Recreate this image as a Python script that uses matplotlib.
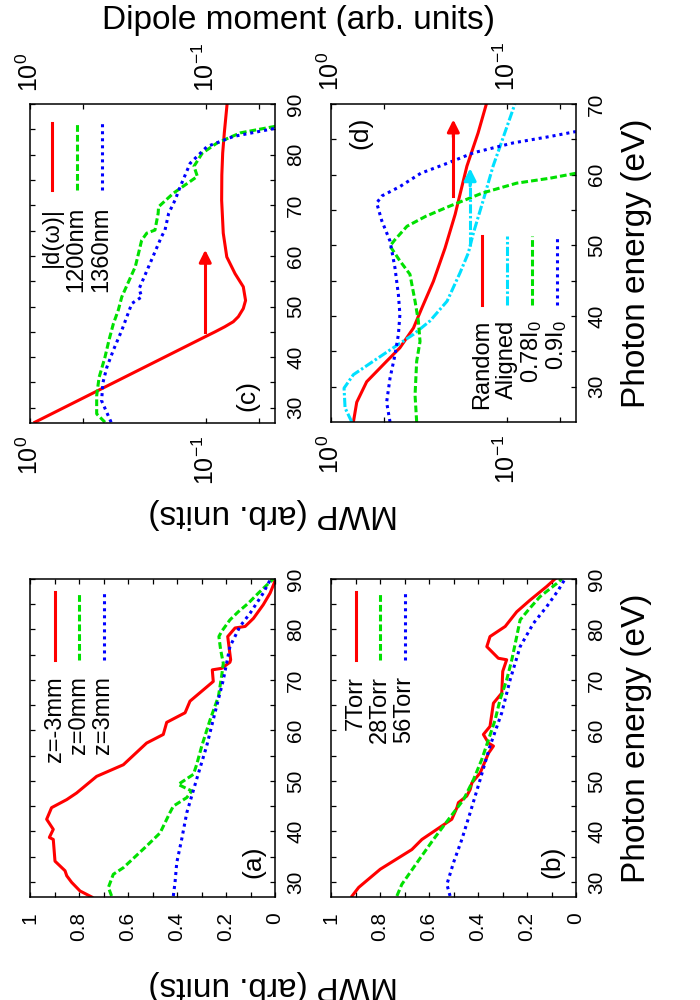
import matplotlib
matplotlib.use("Agg")
import matplotlib.pyplot as plt
from matplotlib.ticker import NullFormatter

plt.rcParams['font.family'] = ['Liberation Sans', 'DejaVu Sans']
plt.rcParams['mathtext.fontset'] = 'custom'
plt.rcParams['mathtext.rm'] = 'Liberation Sans'
plt.rcParams['mathtext.it'] = 'Liberation Sans:italic'
plt.rcParams['mathtext.default'] = 'regular'

# ---- panel (a): MWP vs photon energy, three z positions
e_a_m3 = [27, 28.2, 29.9, 31.2, 32.2, 34.1, 38.4, 38.8, 40.4, 42.4, 44.7, 46.3, 47.6, 50.9,
          53.2, 57.5, 59.2, 61.6, 63.5, 65.8, 69.7, 72.0, 72.3, 73.5, 74.0, 78.6, 80.3, 80.6,
          82.2, 84.9, 87.2, 89.1, 90]
mwp_a_m3 = [0.748, 0.796, 0.83, 0.85, 0.857, 0.898, 0.905, 0.921, 0.905, 0.932, 0.912, 0.85,
            0.81, 0.728, 0.619, 0.524, 0.456, 0.442, 0.367, 0.347, 0.252, 0.256, 0.218, 0.184,
            0.181, 0.193, 0.163, 0.122, 0.088, 0.048, 0.02, 0.004, 0.0]
e_a_0 = [27.2, 28.9, 31.5, 32.8, 37.1, 39.7, 43.7, 45.0, 46.7, 48.0, 49.3, 51.3, 53.2, 56.9,
         62.1, 66.7, 70.7, 73.3, 76.0, 78.6, 79.6, 81.9, 83.5, 85.2, 87.2, 89.1, 90]
mwp_a_0 = [0.667, 0.68, 0.66, 0.619, 0.524, 0.469, 0.429, 0.415, 0.36, 0.34, 0.395, 0.333,
           0.32, 0.299, 0.265, 0.231, 0.218, 0.211, 0.222, 0.229, 0.218, 0.184, 0.15, 0.109,
           0.068, 0.027, 0.007]
e_a_p3 = [27.2, 29.9, 33.8, 38.4, 43.7, 50.3, 56.9, 63.5, 70.0, 76.6, 80.6, 83.2, 87.2, 90]
mwp_a_p3 = [0.415, 0.408, 0.401, 0.381, 0.36, 0.32, 0.279, 0.245, 0.211, 0.184, 0.143, 0.102,
            0.048, 0.018]

# ---- panel (b): three gas pressures
e_b_7 = [27.2, 28.9, 32.5, 36.4, 38.4, 40.4, 42.4, 44.7, 45.7, 47.0, 48.3, 49.6, 51.6, 53.9,
         55.5, 56.9, 57.5, 59.2, 60.8, 65.4, 67.4, 71.7, 74.0, 74.3, 76.6, 78.6, 80.6, 83.5,
         85.8, 88.5, 90]
mwp_b_7 = [0.914, 0.887, 0.799, 0.67, 0.629, 0.568, 0.507, 0.486, 0.48, 0.446, 0.432, 0.425,
           0.391, 0.371, 0.357, 0.337, 0.357, 0.378, 0.351, 0.337, 0.303, 0.299, 0.283, 0.317,
           0.364, 0.351, 0.289, 0.242, 0.188, 0.12, 0.086]
e_b_28 = [27.2, 29.5, 33.8, 38.4, 42.4, 46.3, 50.3, 54.2, 58.2, 62.1, 66.1, 70.0, 74.0, 78.6,
          81.9, 83.9, 86.5, 89.1, 90]
mwp_b_28 = [0.731, 0.711, 0.649, 0.582, 0.52, 0.459, 0.418, 0.385, 0.357, 0.33, 0.31, 0.283,
            0.262, 0.242, 0.228, 0.194, 0.147, 0.079, 0.058]
e_b_56 = [27.2, 29.5, 33.8, 38.4, 43.7, 50.3, 56.9, 63.5, 70.0, 76.6, 81.2, 84.5, 87.8, 90]
mwp_b_56 = [0.514, 0.527, 0.5, 0.466, 0.432, 0.391, 0.351, 0.303, 0.269, 0.228, 0.174, 0.12,
            0.072, 0.045]

# ---- panel (c): dipole moment and MWP (log scale)
e_c_d = [27.15, 44.0, 45.0, 46.0, 47.0, 48.0, 49.6, 51.2, 53.9, 56.5, 59.8, 64.5, 71.0, 76.0,
         80.3, 84.3, 90]
val_c_d = [0.938, 0.1016, 0.0889, 0.0783, 0.0700, 0.0655, 0.0614, 0.0596, 0.0614, 0.0684,
           0.0762, 0.0798, 0.0815, 0.0813, 0.0804, 0.0787, 0.0759]
e_c_1200 = [27.15, 28.8, 32.4, 36.0, 40.0, 43.5, 46.6, 49.3, 51.9, 57.9, 63.1, 64.5, 65.1, 68.4,
            69.7, 72.4, 75.7, 77.7, 80.3, 82.3, 84.3, 85.6]
val_c_1200 = [0.375, 0.418, 0.418, 0.405, 0.375, 0.355, 0.336, 0.315, 0.301, 0.252, 0.232,
              0.217, 0.195, 0.187, 0.186, 0.153, 0.112, 0.117, 0.105, 0.0865, 0.0638, 0.0403]
e_c_1360 = [27.15, 31.4, 35.0, 38.0, 41.5, 45.3, 50.6, 51.9, 53.5, 59.2, 63.8, 65.1, 68.4, 71.0,
            73.7, 78.3, 81.6, 83.6, 85.2]
val_c_1360 = [0.346, 0.392, 0.385, 0.366, 0.335, 0.301, 0.264, 0.232, 0.240, 0.204, 0.179,
              0.171, 0.163, 0.150, 0.140, 0.123, 0.0986, 0.0697, 0.0403]

# ---- panel (d): random / aligned / two intensities (log scale)
e_d_rand = [25, 27.8, 30.7, 33.6, 35.5, 38.3, 41.1, 44.9, 49.6, 54.4, 57.2, 61.2, 65.9, 70]
val_d_rand = [0.746, 0.714, 0.627, 0.483, 0.406, 0.340, 0.305, 0.262, 0.225, 0.197, 0.185,
              0.169, 0.146, 0.131]
e_d_align = [25, 27.0, 29.8, 31.7, 33.6, 35.5, 37.4, 39.3, 42.1, 46.1, 48.9, 51.8, 56.5, 61.2,
             65.9, 70]
val_d_align = [0.762, 0.832, 0.843, 0.746, 0.575, 0.443, 0.340, 0.274, 0.219, 0.185, 0.166,
               0.155, 0.136, 0.120, 0.103, 0.0902]
e_d_078 = [25, 28.8, 33.6, 36.4, 39.3, 42.1, 45.9, 47.8, 49.9, 50.8, 52.7, 54.1, 55.5, 57.4,
           58.8, 59.5, 60.2]
val_d_078 = [0.326, 0.333, 0.326, 0.312, 0.319, 0.333, 0.356, 0.406, 0.462, 0.433, 0.370,
             0.290, 0.214, 0.138, 0.0881, 0.0570, 0.0406]
e_d_09 = [25, 27.8, 31.2, 34.5, 37.4, 40.2, 43.0, 46.8, 50.6, 53.5, 56.0, 57.0, 58.3, 60.2,
          61.6, 63.1, 64.5, 65.4, 66.1]
val_d_09 = [0.462, 0.483, 0.462, 0.433, 0.414, 0.406, 0.414, 0.433, 0.462, 0.515, 0.550, 0.513,
            0.407, 0.309, 0.219, 0.155, 0.092, 0.057, 0.0406]

mwp_ticks = [1, 0.8, 0.6, 0.4, 0.2, 0]
mwp_labels = ['1', '0.8', '0.6', '0.4', '0.2', '0']
log_ticks = [1, 0.1]
log_labels = [r'$10^{0}$', r'$10^{-1}$']

RED = '#ff0000'
GREEN = '#00e000'
BLUE = '#0000ff'
CYAN = '#00e0ff'
LW = 2.2
styles = {
    'red': dict(color=RED, lw=LW, ls='-'),
    'green': dict(color=GREEN, lw=LW, ls=(0, (2.2, 1.0))),
    'blue': dict(color=BLUE, lw=LW, ls=(0, (1.0, 1.3))),
    'cyan': dict(color=CYAN, lw=LW, ls=(0, (3.0, 0.8, 0.8, 0.8))),
}

TICK_FS = 15
LOG_FS = 18
LEG_FS = 17
LAB_FS = 24

fig = plt.figure(figsize=(7, 10), dpi=100)


def box(x0, y0, x1, y1):
    return [x0 / 700, 1 - y1 / 1000, (x1 - x0) / 700, (y1 - y0) / 1000]


ax_a = fig.add_axes(box(30, 579, 275, 897))
ax_b = fig.add_axes(box(331, 579, 576, 897))
ax_c = fig.add_axes(box(30, 104, 275, 423))
ax_d = fig.add_axes(box(331, 104, 576, 422))


def setup(ax, e_lo, e_hi, log):
    ax.set_ylim(e_lo, e_hi)
    ax.yaxis.tick_right()
    major = list(range(30, e_hi + 1, 10))
    ax.set_yticks(major, [str(v) for v in major], rotation=90, va='center')
    ax.set_yticks(list(range(35, e_hi, 10)), minor=True)
    if log:
        ax.set_xscale('log')
        ax.set_xlim(1, 10 ** -1.392)
        ax.set_xticks(log_ticks, log_labels, rotation=90)
        ax.set_xticks([0.5, 0.05], minor=True)
        ax.xaxis.set_minor_formatter(NullFormatter())
    else:
        ax.set_xlim(1, 0)
        ax.set_xticks(mwp_ticks, mwp_labels, rotation=90)
        ax.set_xticks([0.9, 0.7, 0.5, 0.3, 0.1], minor=True)
    ax.tick_params(which='both', direction='in', length=3.8, width=0.9,
                   top=True, bottom=True, left=True, right=True,
                   labelleft=False, labelright=True)
    ax.tick_params(axis='y', pad=8, labelsize=TICK_FS)
    if log:
        ax.tick_params(axis='x', pad=9, labeltop=True, labelsize=LOG_FS)
    else:
        ax.tick_params(axis='x', pad=11, labelsize=TICK_FS)
    for s in ax.spines.values():
        s.set_linewidth(1.1)


def legend(ax, xs, e_line, e_text, names, keys):
    for x, name, key in zip(xs, names, keys):
        ax.plot([x, x], e_line, **styles[key])
        ax.text(x, e_text, name, rotation=90, ha='center', va='top', fontsize=LEG_FS)


def arrow(ax, x, e0, e1, key):
    st = styles[key]
    ax.plot([x, x], [e0, e1 - 1.5], **st)
    ax.annotate('', xy=(x, e1), xytext=(x, e1 - 2.5),
                arrowprops=dict(arrowstyle='-|>', color=st['color'], lw=LW,
                                mutation_scale=18, shrinkA=0, shrinkB=0))


# (a)
setup(ax_a, 27, 90, False)
ax_a.plot(mwp_a_m3, e_a_m3, **styles['red'])
ax_a.plot(mwp_a_0, e_a_0, **styles['green'])
ax_a.plot(mwp_a_p3, e_a_p3, **styles['blue'])
legend(ax_a, [0.9, 0.8, 0.7], [74.0, 87.5], 70.7, ['z=-3mm', 'z=0mm', 'z=3mm'],
       ['red', 'green', 'blue'])
ax_a.text(0.09, 34, '(a)', rotation=90, ha='center', va='center', fontsize=19)

# (b)
setup(ax_b, 27, 90, False)
ax_b.plot(mwp_b_7, e_b_7, **styles['red'])
ax_b.plot(mwp_b_28, e_b_28, **styles['green'])
ax_b.plot(mwp_b_56, e_b_56, **styles['blue'])
legend(ax_b, [0.9, 0.8, 0.7], [74.0, 87.5], 70.7, ['7Torr', '28Torr', '56Torr'],
       ['red', 'green', 'blue'])
ax_b.text(0.098, 34, '(b)', rotation=90, ha='center', va='center', fontsize=19)

# (c)
setup(ax_c, 27, 90, True)
ax_c.plot(val_c_d, e_c_d, **styles['red'])
ax_c.plot(val_c_1200, e_c_1200, **styles['green'])
ax_c.plot(val_c_1360, e_c_1360, **styles['blue'])
legend(ax_c, [0.753, 0.543, 0.392], [73.0, 86.2], 69.7, ['|d(ω)|', '1200nm', '1360nm'],
       ['red', 'green', 'blue'])
arrow(ax_c, 0.101, 45.0, 61.2, 'red')
ax_c.text(0.0585, 32.4, '(c)', rotation=90, ha='center', va='center', fontsize=19)

# (d)
setup(ax_d, 25, 70, True)
ax_d.plot(val_d_rand, e_d_rand, **styles['red'])
ax_d.plot(val_d_align, e_d_align, **styles['cyan'])
ax_d.plot(val_d_078, e_d_078, **styles['green'])
ax_d.plot(val_d_09, e_d_09, **styles['blue'])
legend(ax_d, [0.139, 0.1005, 0.0724, 0.0522], [41.6, 51.3], 39.5,
       ['Random', 'Aligned', r'0.78I$_0$', r'0.9I$_0$'], ['red', 'cyan', 'green', 'blue'])
arrow(ax_d, 0.2018, 57.0, 67.8, 'red')
arrow(ax_d, 0.162, 49.9, 60.9, 'cyan')
ax_d.text(0.684, 65.9, '(d)', rotation=90, ha='center', va='center', fontsize=19)

# shared axis titles
fig.text(299 / 700, 1 - 29 / 1000, 'Dipole moment (arb. units)', ha='center',
         va='baseline', fontsize=LAB_FS)
fig.text(273 / 700, 1 - 513 / 1000, 'MWP (arb. units)', rotation=180, ha='center',
         va='center', fontsize=LAB_FS)
fig.text(273 / 700, 1 - 985 / 1000, 'MWP (arb. units)', rotation=180, ha='center',
         va='center', fontsize=LAB_FS)
fig.text(637 / 700, 1 - 263.5 / 1000, 'Photon energy (eV)', rotation=90, ha='center',
         va='center', fontsize=LAB_FS)
fig.text(637 / 700, 1 - 738 / 1000, 'Photon energy (eV)', rotation=90, ha='center',
         va='center', fontsize=LAB_FS)

fig.savefig('out.png', dpi=100)
